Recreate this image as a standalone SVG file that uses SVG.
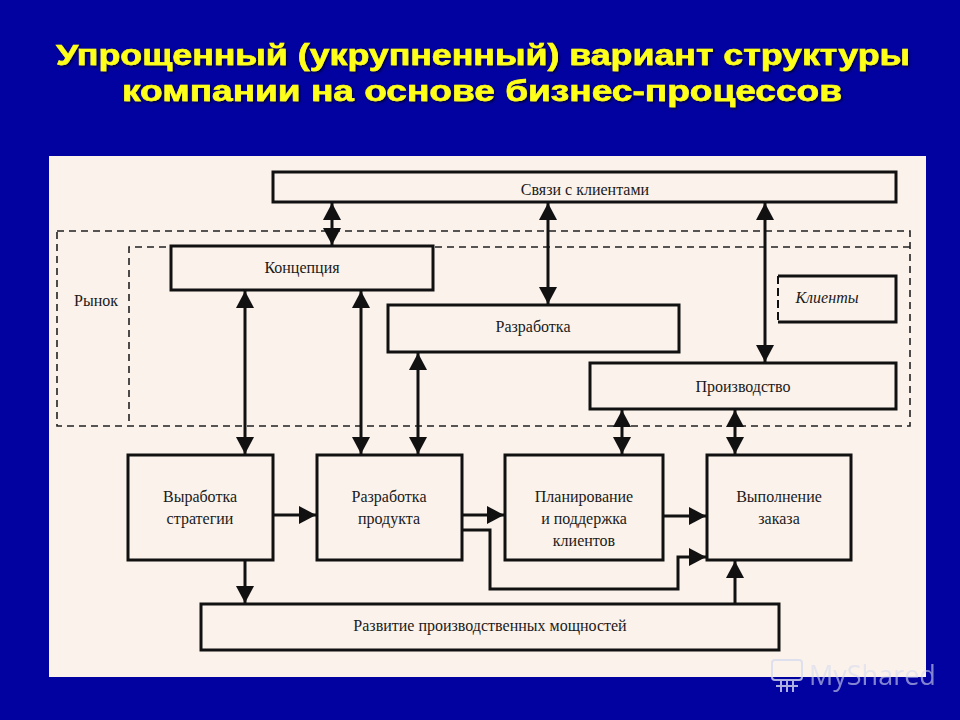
<svg xmlns="http://www.w3.org/2000/svg" width="960" height="720" viewBox="0 0 960 720">
  <style>
    .title { font-family: "Liberation Sans", Arial, sans-serif; font-weight: bold; font-size: 29px; fill: #ffff1a; stroke: #ffff1a; stroke-width: 0.6; }
    .box { fill: none; stroke: #111; stroke-width: 3; }
    .dash { fill: none; stroke: #222; stroke-width: 1.6; stroke-dasharray: 7,5; }
    .lbl { font-family: "Liberation Serif", "Times New Roman", serif; font-size: 16px; fill: #1a1a1a; text-anchor: middle; }
    .conn { fill: none; stroke: #111; stroke-width: 3; }
    .wm { font-family: "Open Sans", "Liberation Sans", sans-serif; font-size: 27px; fill: #d8dcef; opacity: 0.75; }
  </style>
  <defs>
    <marker id="ah" viewBox="0 0 17 20" refX="17" refY="10" markerWidth="17" markerHeight="20" markerUnits="userSpaceOnUse" orient="auto-start-reverse">
      <path d="M0,1 L17,10 L0,19 Z" fill="#111"/>
    </marker>
    <filter id="sh" x="-5%" y="-20%" width="110%" height="140%">
      <feDropShadow dx="1.5" dy="1.5" stdDeviation="0.8" flood-color="#000030" flood-opacity="0.9"/>
    </filter>
  </defs>

  <rect x="0" y="0" width="960" height="720" fill="#0202a0"/>
  <rect x="49" y="156" width="877" height="521" fill="#faf2eb"/>

  <g id="title" filter="url(#sh)">
    <text class="title" x="483" y="65" text-anchor="middle" textLength="854" lengthAdjust="spacingAndGlyphs">Упрощенный (укрупненный) вариант структуры</text>
    <text class="title" x="482" y="101" text-anchor="middle" textLength="720" lengthAdjust="spacingAndGlyphs">компании на основе бизнес-процессов</text>
  </g>

  <g id="market">
    <rect class="dash" x="57" y="231" width="853" height="195"/>
    <path class="dash" d="M910,247 H129 V426"/>
    <text class="lbl" x="96" y="306">Рынок</text>
  </g>

  <g id="svyazi">
    <rect class="box" x="273" y="172" width="623" height="30" fill="#faf2eb"/>
    <text class="lbl" x="585" y="195">Связи с клиентами</text>
  </g>

  <g id="konceptsiya">
    <rect class="box" x="171" y="246" width="262" height="44" style="fill:#faf2eb"/>
    <text class="lbl" x="302" y="273">Концепция</text>
  </g>

  <g id="razrabotka">
    <rect class="box" x="388" y="305" width="291" height="47" style="fill:#faf2eb"/>
    <text class="lbl" x="533" y="332">Разработка</text>
  </g>

  <g id="klienty">
    <path class="box" d="M778,276 H896 V322 H778"/>
    <path d="M778,276 V322" fill="none" stroke="#111" stroke-width="2" stroke-dasharray="8,4"/>
    <text class="lbl" x="827" y="303" font-style="italic">Клиенты</text>
  </g>

  <g id="proizvodstvo">
    <rect class="box" x="590" y="363" width="306" height="46" style="fill:#faf2eb"/>
    <text class="lbl" x="743" y="392">Производство</text>
  </g>

  <g id="vyrabotka">
    <rect class="box" x="128" y="455" width="145" height="105"/>
    <text class="lbl" x="200" y="502">Выработка</text>
    <text class="lbl" x="200" y="524">стратегии</text>
  </g>

  <g id="razrabotka-produkta">
    <rect class="box" x="317" y="455" width="145" height="105"/>
    <text class="lbl" x="389" y="502">Разработка</text>
    <text class="lbl" x="389" y="524">продукта</text>
  </g>

  <g id="planirovanie">
    <rect class="box" x="505" y="455" width="158" height="105"/>
    <text class="lbl" x="584" y="502">Планирование</text>
    <text class="lbl" x="584" y="524">и поддержка</text>
    <text class="lbl" x="584" y="546">клиентов</text>
  </g>

  <g id="vypolnenie">
    <rect class="box" x="707" y="455" width="144" height="105"/>
    <text class="lbl" x="779" y="502">Выполнение</text>
    <text class="lbl" x="779" y="524">заказа</text>
  </g>

  <g id="razvitie">
    <rect class="box" x="201" y="604" width="578" height="46"/>
    <text class="lbl" x="490" y="631">Развитие производственных мощностей</text>
  </g>

  <g id="connectors">
    <line class="conn" x1="332" y1="203" x2="332" y2="245" marker-start="url(#ah)" marker-end="url(#ah)"/>
    <line class="conn" x1="548" y1="203" x2="548" y2="304" marker-start="url(#ah)" marker-end="url(#ah)"/>
    <line class="conn" x1="765" y1="203" x2="765" y2="362" marker-start="url(#ah)" marker-end="url(#ah)"/>
    <line class="conn" x1="245" y1="291" x2="245" y2="454" marker-start="url(#ah)" marker-end="url(#ah)"/>
    <line class="conn" x1="361" y1="291" x2="361" y2="454" marker-start="url(#ah)" marker-end="url(#ah)"/>
    <line class="conn" x1="418" y1="353" x2="418" y2="454" marker-start="url(#ah)" marker-end="url(#ah)"/>
    <line class="conn" x1="622" y1="410" x2="622" y2="454" marker-start="url(#ah)" marker-end="url(#ah)"/>
    <line class="conn" x1="735" y1="410" x2="735" y2="454" marker-start="url(#ah)" marker-end="url(#ah)"/>
    <line class="conn" x1="274" y1="515" x2="316" y2="515" marker-end="url(#ah)"/>
    <line class="conn" x1="463" y1="515" x2="504" y2="515" marker-end="url(#ah)"/>
    <line class="conn" x1="664" y1="516" x2="706" y2="516" marker-end="url(#ah)"/>
    <path class="conn" d="M463,530 H490 V589 H678 V557 H706" marker-end="url(#ah)"/>
    <line class="conn" x1="245" y1="561" x2="245" y2="603" marker-end="url(#ah)"/>
    <line class="conn" x1="735" y1="603" x2="735" y2="561" marker-end="url(#ah)"/>
  </g>

  <g id="watermark" opacity="0.8">
    <rect x="772" y="660" width="30" height="20" rx="3" fill="none" stroke="#d8dcef" stroke-width="2"/>
    <path d="M776,686 H798 M781,680 V692 M787,680 V692 M793,680 V692" fill="none" stroke="#d8dcef" stroke-width="2"/>
    <text class="wm" x="809" y="685">MyShared</text>
  </g>
</svg>
